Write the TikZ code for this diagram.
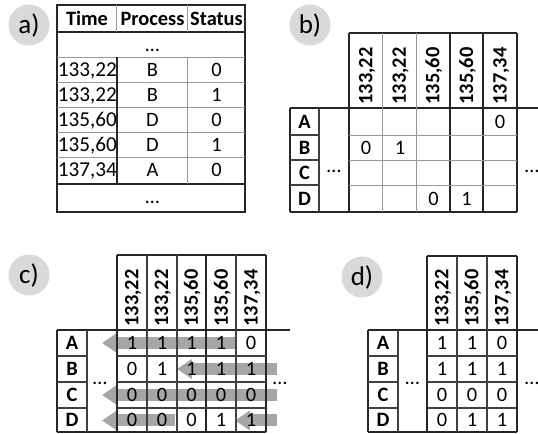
\documentclass[tikz,border=0pt]{standalone}
\usepackage{fontspec}
\setmainfont{Carlito}
\usetikzlibrary{arrows.meta}

\begin{document}
\begin{tikzpicture}[x=0.5pt,y=-0.5pt,
  dk/.style={line width=1pt,black!85},
  md/.style={line width=0.6pt,black!75},
  lt/.style={line width=0.5pt,black!40},
  val/.style={font=\fontsize{10.2}{12}\selectfont,inner sep=0pt,text height=6.5pt,text depth=0pt},
  hd/.style={val,font=\fontsize{10.2}{12}\selectfont\bfseries},
  rothd/.style={hd,rotate=90,anchor=west},
  tag/.style={circle,fill=black!15,minimum size=20.5pt,inner sep=0pt,font=\fontsize{13.5}{15}\selectfont},
  flow/.style={line width=6pt,black!35,-{Triangle[length=7.5pt,width=9.5pt]}}]
\useasboundingbox (0,0) rectangle (538,434);

% a) event log
\node[tag] (ta) at (29,25) {a)};
\draw[dk] (57,5) rectangle (245,212);
\draw[dk] (57,32) -- (245,32) (57,184) -- (245,184);
\foreach \y in {57,82,107,132,157} \draw[lt] (57,\y) -- (245,\y);
\draw[lt] (117,5) -- (117,32) (188,5) -- (188,32) (188,57) -- (188,184);
\draw[dk,line width=1.1pt] (117,57) -- (117,184);
\node[hd] (hTime) at (87,18.5) {Time};
\node[hd] (hProc) at (152.5,18.5) {Process};
\node[hd] (hStat) at (216.5,18.5) {Status};
\node[val] (dtop) at (152.5,44.5) {…};
\node[val] (dbot) at (152.5,197) {…};
\foreach \t/\p/\s [count=\i] in {{133,22}/B/0,{133,22}/B/1,{135,60}/D/0,{135,60}/D/1,{137,34}/A/0}{
  \node[val,anchor=west,font=\fontsize{10.6}{12}\selectfont] (t\i) at (57.5,{44.5+25*\i}) {\t};
  \node[val] (p\i) at (152.5,{44.5+25*\i}) {\p};
  \node[val] (s\i) at (216.5,{44.5+25*\i}) {\s};
}

% b) sparse matrix
\node[tag] (tb) at (310,25) {b)};
\draw[dk] (349,33) -- (517,33);
\draw[dk] (290,108) -- (538,108);
\draw[dk] (290,212) -- (517,212);
\draw[dk] (290,108) -- (290,212);
\draw[md] (319,108) -- (319,212);
\foreach \x in {349,450,483,517} \draw[dk] (\x,33) -- (\x,212);
\foreach \x in {383,417} \draw[lt] (\x,33) -- (\x,212);
\foreach \y in {135,160,185}{
  \draw[md] (290,\y) -- (319,\y);
  \draw[lt] (349,\y) -- (517,\y);
}
\foreach \t [count=\i] in {{133,22},{133,22},{135,60},{135,60},{137,34}}
  \node[rothd] (hb\i) at ({349+33.6*(\i-0.5)},105) {\t};
\foreach \r/\y in {A/121.5,B/147.5,C/172.5,D/198.5}
  \node[hd] (rb\r) at (304.5,\y) {\r};
\node[val] (bl) at (334,165.5) {…};
\node[val] (br) at (532,165.5) {…};
\node[val] (bA5) at (500,121.5) {0};
\node[val] (bB1) at (366,147.5) {0};
\node[val] (bB2) at (400,147.5) {1};
\node[val] (bD3) at (433.5,198.5) {0};
\node[val] (bD4) at (466.5,198.5) {1};

% c) filled matrix
\node[tag] (tc) at (29,275) {c)};
\draw[flow] (237,343) -- (102,343);
\draw[flow] (277,369) -- (177,369);
\draw[flow] (277,395) -- (102,395);
\draw[flow] (175,420.5) -- (102,420.5);
\draw[flow] (277,420.5) -- (235,420.5);
\draw[dk] (117,255) -- (266,255);
\draw[dk] (57,330) -- (290,330);
\draw[dk] (57,432.5) -- (266,432.5);
\draw[dk] (57,330) -- (57,432.5);
\draw[md] (87,330) -- (87,432.5);
\foreach \x in {117,206,266} \draw[dk] (\x,255) -- (\x,432.5);
\foreach \x in {147,177,236} \draw[md] (\x,255) -- (\x,432.5);
\foreach \y in {356,382,408}{
  \draw[md] (57,\y) -- (87,\y);
  \draw[md] (117,\y) -- (266,\y);
}
\foreach \t [count=\i] in {{133,22},{133,22},{135,60},{135,60},{137,34}}
  \node[rothd] (hc\i) at ({117+29.8*(\i-0.5)},327) {\t};
\foreach \r/\y in {A/343,B/369,C/395,D/420.5}
  \node[hd] (rc\r) at (72,\y) {\r};
\node[val] (cl) at (100,378.5) {…};
\node[val] (cr) at (280,378.5) {…};
\foreach \r/\y/\va/\vb/\vc/\vd/\ve in {A/343/1/1/1/1/0,B/369/0/1/1/1/1,C/395/0/0/0/0/0,D/420.5/0/0/0/1/1}{
  \node[val] (c\r1) at (132,\y) {\va};
  \node[val] (c\r2) at (162,\y) {\vb};
  \node[val] (c\r3) at (191.5,\y) {\vc};
  \node[val] (c\r4) at (221,\y) {\vd};
  \node[val] (c\r5) at (251,\y) {\ve};
}

% d) merged matrix
\node[tag] (td) at (362,277) {d)};
\draw[dk] (427,256) -- (517,256);
\draw[dk] (368,330) -- (538,330);
\draw[dk] (368,432.5) -- (517,432.5);
\draw[dk] (368,330) -- (368,432.5);
\draw[md] (398,330) -- (398,432.5);
\foreach \x in {427,517} \draw[dk] (\x,256) -- (\x,432.5);
\foreach \x in {457,487} \draw[md] (\x,256) -- (\x,432.5);
\foreach \y in {356,382,408}{
  \draw[md] (368,\y) -- (398,\y);
  \draw[md] (427,\y) -- (517,\y);
}
\foreach \t [count=\i] in {{133,22},{135,60},{137,34}}
  \node[rothd] (hd\i) at ({427+30*(\i-0.5)},327) {\t};
\foreach \r/\y in {A/343,B/369,C/395,D/420.5}
  \node[hd] (rd\r) at (383,\y) {\r};
\node[val] (dl) at (412.5,378.5) {…};
\node[val] (dr) at (532,378.5) {…};
\foreach \r/\y/\va/\vb/\vc in {A/343/1/1/0,B/369/1/1/1,C/395/0/0/0,D/420.5/0/1/1}{
  \node[val] (d\r1) at (442,\y) {\va};
  \node[val] (d\r2) at (472,\y) {\vb};
  \node[val] (d\r3) at (502,\y) {\vc};
}
\end{tikzpicture}
\end{document}
